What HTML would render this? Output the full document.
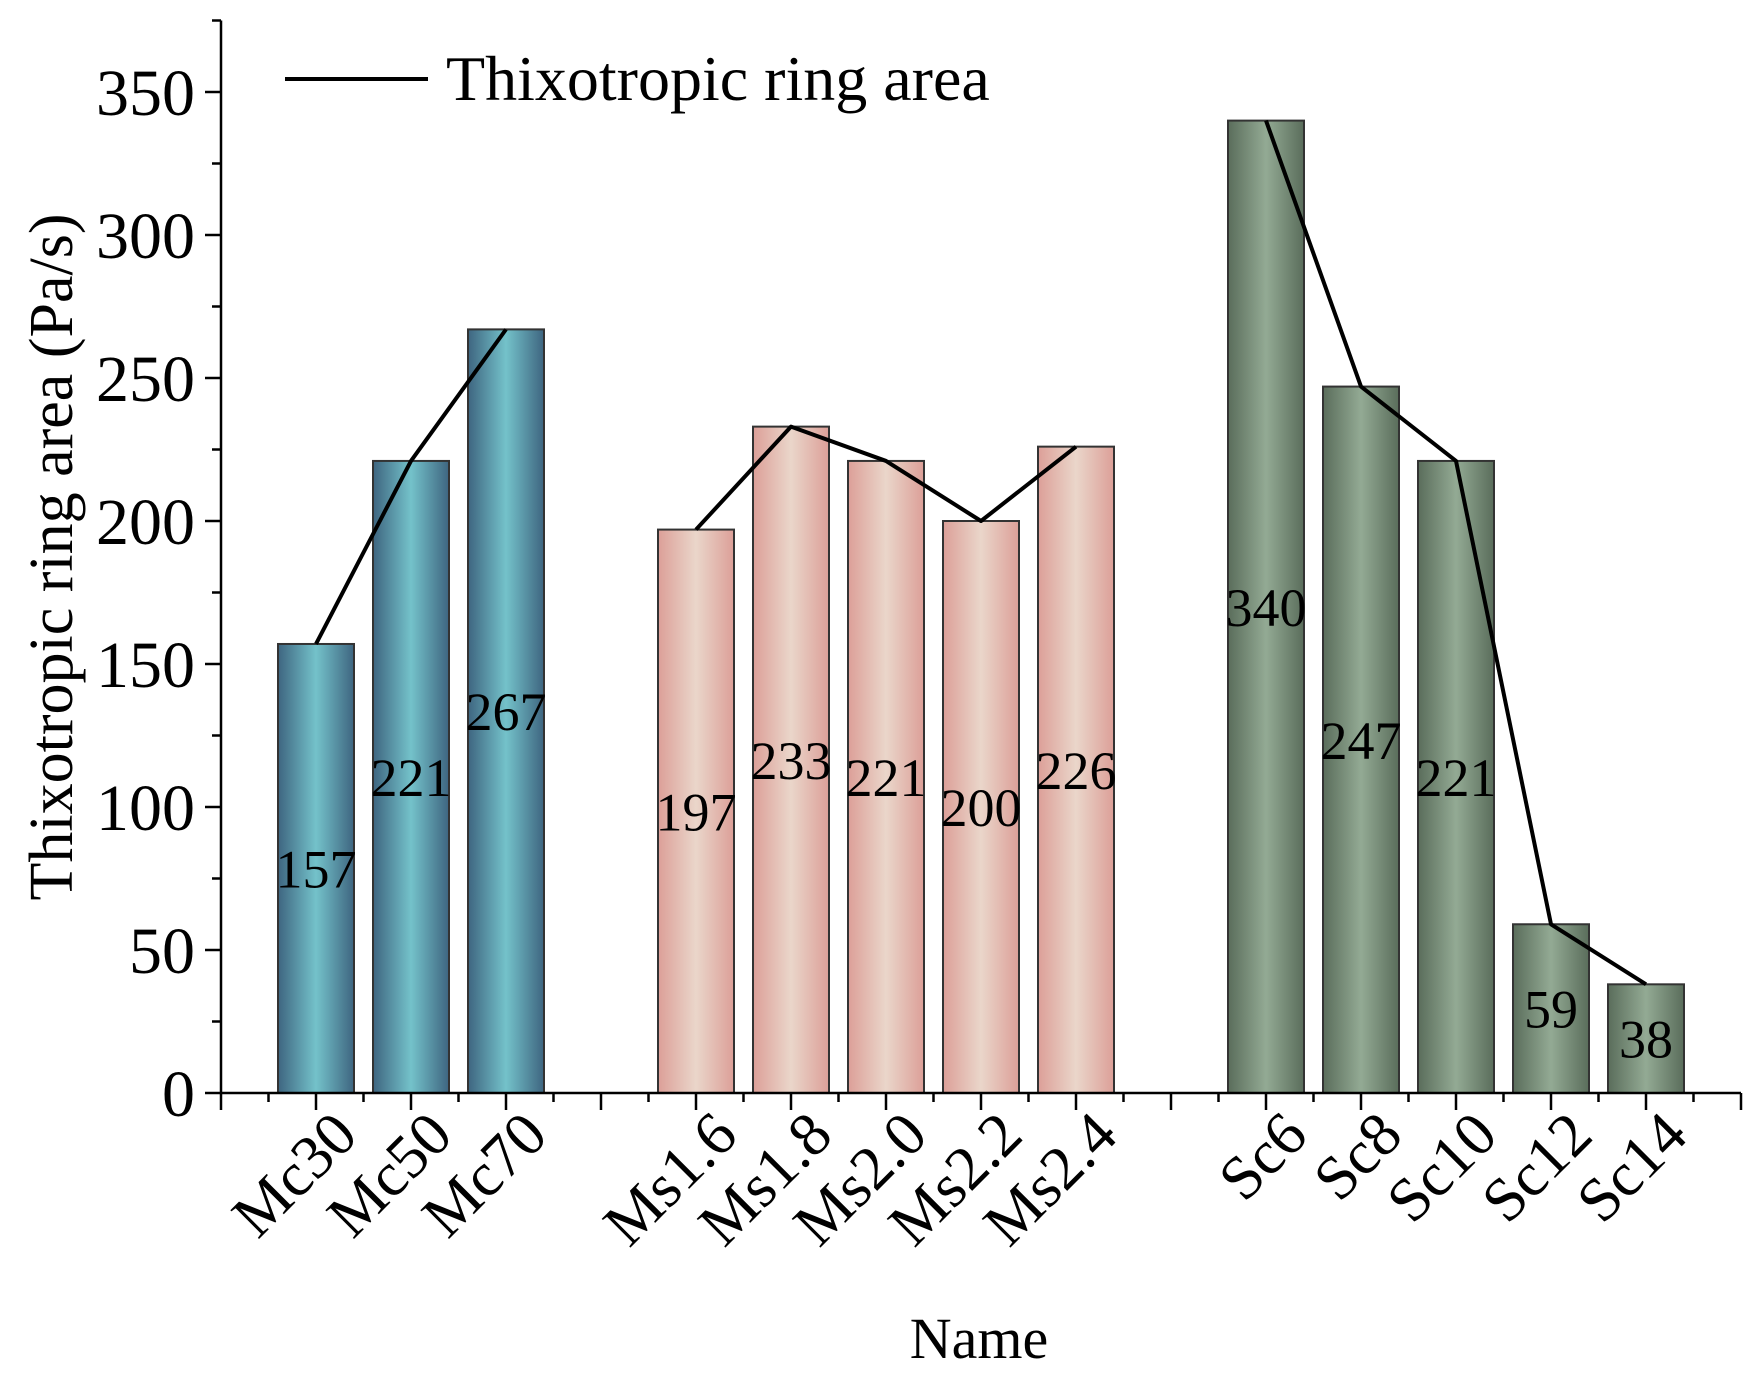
<!DOCTYPE html>
<html><head><meta charset="utf-8"><style>
html,body{margin:0;padding:0;background:#fff}
svg{display:block}
text{font-family:"Liberation Serif",serif;fill:#000}
</style></head><body>
<svg id="chart" width="1764" height="1386" viewBox="0 0 1764 1386" xmlns="http://www.w3.org/2000/svg">
<defs>
<linearGradient id="gMc" x1="0" x2="1" y1="0" y2="0"><stop offset="0" stop-color="#3e6580"/><stop offset="0.5" stop-color="#74c2ca"/><stop offset="1" stop-color="#3e6580"/></linearGradient>
<linearGradient id="gMs" x1="0" x2="1" y1="0" y2="0"><stop offset="0" stop-color="#dc9f98"/><stop offset="0.5" stop-color="#ead6ca"/><stop offset="1" stop-color="#dc9f98"/></linearGradient>
<linearGradient id="gSc" x1="0" x2="1" y1="0" y2="0"><stop offset="0" stop-color="#5a6d5b"/><stop offset="0.5" stop-color="#93aa94"/><stop offset="1" stop-color="#5a6d5b"/></linearGradient>
</defs>
<g id="plot"></g>
</svg>
<script>
const categories = ["Mc30","Mc50","Mc70","Ms1.6","Ms1.8","Ms2.0","Ms2.2","Ms2.4","Sc6","Sc8","Sc10","Sc12","Sc14"];
const slots = [1,2,3,5,6,7,8,9,11,12,13,14,15];
const groups = ["Mc","Mc","Mc","Ms","Ms","Ms","Ms","Ms","Sc","Sc","Sc","Sc","Sc"];
const values = [157,221,267,197,233,221,200,226,340,247,221,59,38];
const yTicks = [0,50,100,150,200,250,300,350];

const X0=221, XU=95.0, Y0=1093, YU=2.86;
const xs = s => X0 + s*XU;
const ys = v => Y0 - v*YU;
const NS="http://www.w3.org/2000/svg";
const g=document.getElementById('plot');
function mk(tag, attrs, parent){const e=document.createElementNS(NS,tag);for(const k in attrs)e.setAttribute(k,attrs[k]);(parent||g).appendChild(e);return e;}

const barW=76;
values.forEach((v,i)=>{
  const r=mk('rect',{x:xs(slots[i])-barW/2,y:ys(v),width:barW,height:Y0-ys(v),fill:'url(#g'+groups[i]+')',stroke:'#333',"stroke-width":2});
  
  
});
["Mc","Ms","Sc"].forEach(gr=>{
  const pts=[];
  values.forEach((v,i)=>{ if(groups[i]===gr) pts.push(xs(slots[i])+','+ys(v)); });
  const pl=mk('polyline',{points:pts.join(' '),fill:'none',stroke:'#000',"stroke-width":4,"stroke-linejoin":'round'});
  
  
});
values.forEach((v,i)=>{
  const t=mk('text',{x:xs(slots[i]),y:ys(v/2)+19,"text-anchor":'middle',"font-size":54});
  t.textContent=v;
  
  
});
const ax=mk('path',{d:`M${X0} ${ys(375)}V${Y0}H${xs(16)}`,fill:'none',stroke:'#000',"stroke-width":2.5});


for(let v=0; v<=375; v+=25){
  const major=v%50===0;
  mk('line',{x1:X0,x2:X0-(major?16:9),y1:ys(v),y2:ys(v),stroke:'#000',"stroke-width":2.5});
}
yTicks.forEach(v=>{
  const t=mk('text',{x:X0-26,y:ys(v)+23,"text-anchor":'end',"font-size":66});
  t.textContent=v;
  
  
});
for(let s=0; s<=16; s+=0.5){
  const major=Number.isInteger(s);
  mk('line',{x1:xs(s),x2:xs(s),y1:Y0,y2:Y0+(major?17:9),stroke:'#000',"stroke-width":2.5});
}
categories.forEach((c,i)=>{
  const x=xs(slots[i])+44, y=1138;
  const t=mk('text',{x:x,y:y,"text-anchor":'end',"font-size":62,transform:`rotate(-45 ${x} ${y})`});
  t.textContent=c;
  
  
});
const yt=mk('text',{x:0,y:0,"text-anchor":'middle',"font-size":62,transform:'translate(72 557) rotate(-90)'});
yt.textContent='Thixotropic ring area (Pa/s)';


const xt=mk('text',{x:979,y:1358,"text-anchor":'middle',"font-size":58});
xt.textContent='Name';


const lg=mk('g',{});


mk('line',{x1:285,x2:428,y1:79,y2:79,stroke:'#000',"stroke-width":4},lg);
const lt=mk('text',{x:446,y:100,"font-size":64},lg);
lt.textContent='Thixotropic ring area';
</script>
</body></html>
